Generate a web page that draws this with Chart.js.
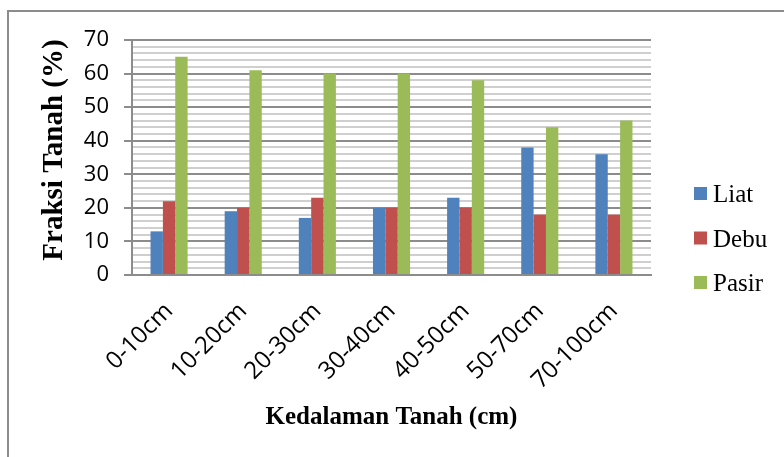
<!DOCTYPE html>
<html>
<head>
<meta charset="utf-8">
<script src="https://cdn.jsdelivr.net/npm/chart.js@4.4.1/dist/chart.umd.min.js"></script>
<style>
  html, body { margin: 0; padding: 0; background: #fff; }
  #frame { position: absolute; left: 7px; top: 10px; width: 790px; height: 460px;
           border-left: 2px solid #8c8c8c; border-top: 2px solid #8c8c8c; }
  #wrap { position: absolute; left: 0; top: 0; width: 784px; height: 457px; }
</style>
</head>
<body>
<div id="frame"></div>
<div id="wrap"><canvas id="c" width="784" height="457"></canvas></div>
<script>
// Soil depth classes
const categories = ['0-10cm', '10-20cm', '20-30cm', '30-40cm', '40-50cm', '50-70cm', '70-100cm'];
// Soil fraction percentages per depth
const liat  = [13, 19, 17, 20, 23, 38, 36];
const debu  = [22, 20, 23, 20, 20, 18, 18];
const pasir = [65, 61, 60, 60, 58, 44, 46];
const seriesNames = ['Liat', 'Debu', 'Pasir'];
const seriesColors = ['#4F81BD', '#C0504D', '#9BBB59'];
const yTicks = [0, 10, 20, 30, 40, 50, 60, 70];
const yTitle = 'Fraksi Tanah (%)';

const isMajor = v => yTicks.includes(v);
const serif = '"Liberation Serif", "Times New Roman", serif';

// Vertical axis title and right-hand legend
const sideText = {
  id: 'sideText',
  afterDraw(chart) {
    const ctx = chart.ctx;
    ctx.save();
    ctx.fillStyle = '#000';
    ctx.font = 'bold 29px ' + serif;
    ctx.textAlign = 'center';
    ctx.textBaseline = 'middle';
    ctx.translate(55, 150);
    ctx.rotate(-Math.PI / 2);
    ctx.fillText(yTitle, 0, 0);
    ctx.restore();

    ctx.save();
    ctx.font = '25px ' + serif;
    ctx.textBaseline = 'alphabetic';
    chart.data.datasets.forEach((ds, i) => {
      const top = 187 + i * 44.5;
      ctx.fillStyle = ds.backgroundColor;
      ctx.fillRect(694, top, 13, 13);
      ctx.fillStyle = '#000';
      ctx.fillText(ds.label, 713, top + 15);
    });
    ctx.restore();
  }
};

new Chart(document.getElementById('c'), {
  type: 'bar',
  data: {
    labels: categories,
    datasets: [liat, debu, pasir].map((d, i) => ({
      label: seriesNames[i],
      data: d,
      backgroundColor: seriesColors[i],
      categoryPercentage: 0.5,
      barPercentage: 1.0
    }))
  },
  options: {
    responsive: false,
    animation: false,
    devicePixelRatio: 1,
    layout: { padding: { left: 35, right: 133, top: 40, bottom: 20 } },
    plugins: { legend: { display: false }, tooltip: { enabled: false } },
    scales: {
      x: {
        grid: { display: false },
        border: { display: true, color: '#8c8c8c', width: 2 },
        ticks: {
          color: '#000',
          font: { family: '"Open Sans", sans-serif', size: 24 },
          minRotation: 45, maxRotation: 45, padding: 14
        },
        title: {
          display: true,
          text: 'Kedalaman Tanah (cm)',
          color: '#000',
          font: { family: serif, size: 25, weight: 'bold' }
        },
        afterFit(scale) { scale.height = 457 - 20 - 275; }
      },
      y: {
        min: 0, max: 70,
        ticks: {
          stepSize: 2, autoSkip: false,
          color: '#000',
          font: { family: '"Open Sans", sans-serif', size: 22 },
          padding: 15,
          callback: v => (isMajor(v) ? v : '')
        },
        grid: {
          color: c => (isMajor(c.tick.value) ? '#8c8c8c' : '#cfcfcf'),
          lineWidth: 2,
          tickLength: 8,
          tickColor: c => (isMajor(c.tick.value) ? '#8c8c8c' : 'rgba(0,0,0,0)')
        },
        border: { display: true, color: '#8c8c8c', width: 2 },
        afterFit(scale) { scale.width = 132 - 35; }
      }
    }
  },
  plugins: [sideText]
});
</script>
</body>
</html>
